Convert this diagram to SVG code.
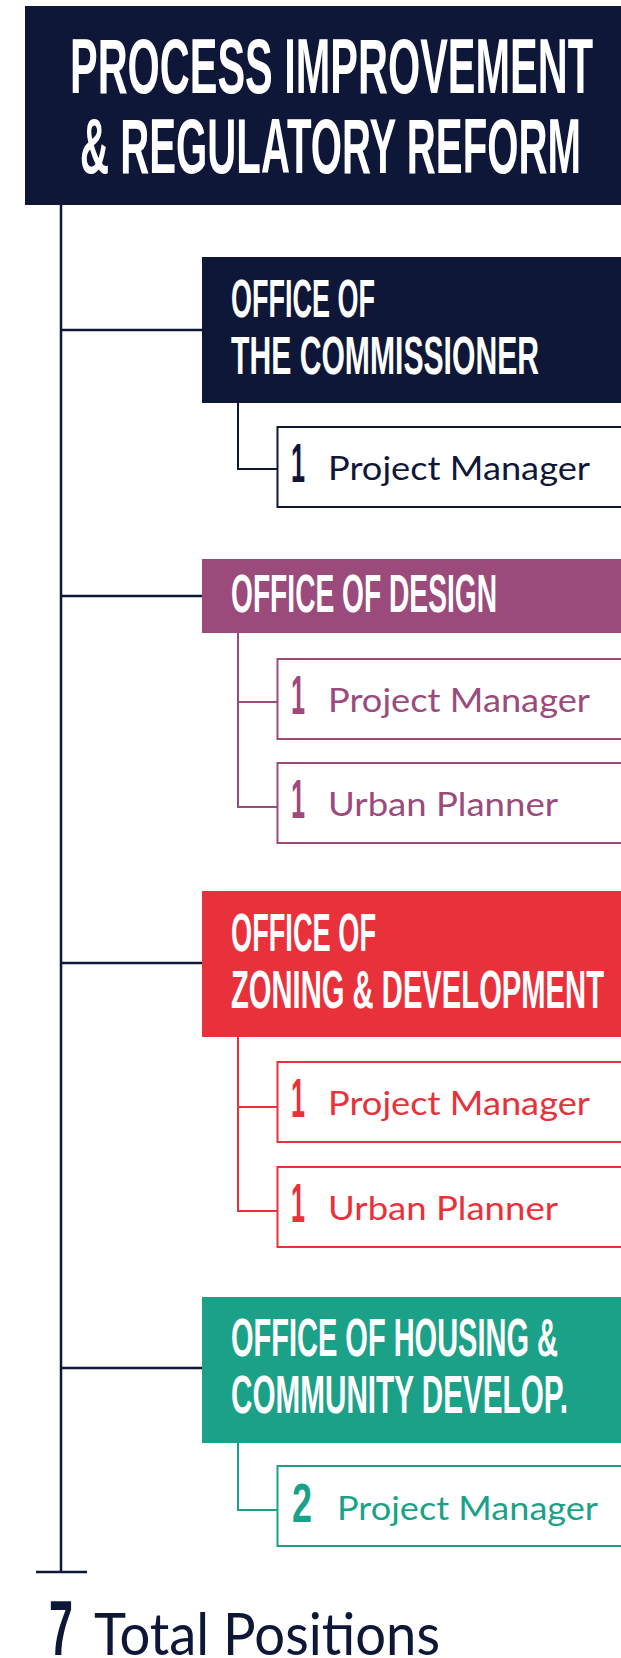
<svg xmlns="http://www.w3.org/2000/svg" width="621" height="1658" viewBox="0 0 621 1658">
<style>
.hd{font-family:"Liberation Sans Narrow","Liberation Sans",Arial,sans-serif;font-weight:bold;fill:#fff}
.t{font-size:40px}
.o{font-size:26px}
.dg{font-family:"Liberation Sans Narrow","Liberation Sans",Arial,sans-serif;font-weight:bold;font-size:56px}
.lb{font-family:Lato,"Noto Sans",sans-serif;font-size:33px}
.big7{font-size:78px}
.bigT{font-size:58px}
.navy{fill:#0f1739}.purple{fill:#9b4a7c}.red{fill:#e8313b}.teal{fill:#1ca189}
.sb{fill:#fff;stroke-width:2}
.trunk{stroke:#0f1739;stroke-width:2.5;fill:none}
.c{fill:none;stroke-width:2}
</style>
<g id="connectors">
<path class="trunk" d="M61 205V1572M36 1572H87M61 330H202M61 596H202M61 963H202M61 1368H202"/>
<path class="c" stroke="#0f1739" d="M238 403V469H277"/>
<path class="c" stroke="#9b4a7c" d="M238 633V807H277M238 702H277"/>
<path class="c" stroke="#e8313b" d="M238 1037V1211H277M238 1107H277"/>
<path class="c" stroke="#1ca189" d="M238 1443V1510H277"/>
</g>
<g id="title">
<rect x="25" y="6" width="596" height="199" class="navy"/>
<text class="hd t" transform="translate(70 93) scale(1 1.955)" textLength="523" lengthAdjust="spacingAndGlyphs">PROCESS IMPROVEMENT</text>
<text class="hd t" transform="translate(80 173) scale(1 1.955)" textLength="501" lengthAdjust="spacingAndGlyphs">&amp; REGULATORY REFORM</text>
</g>
<g id="office-commissioner">
<rect x="202" y="257" width="419" height="146" class="navy"/>
<text class="hd o" transform="translate(231 317) scale(1 2.07)" textLength="144" lengthAdjust="spacingAndGlyphs">OFFICE OF</text>
<text class="hd o" transform="translate(231 374) scale(1 2.07)" textLength="308" lengthAdjust="spacingAndGlyphs">THE COMMISSIONER</text>
</g>
<g id="commissioner-pm">
<rect x="277.5" y="427" width="360" height="80" class="sb" stroke="#0f1739"/>
<text class="dg navy" x="291" y="482" textLength="14" lengthAdjust="spacingAndGlyphs">1</text>
<text class="lb navy" x="328" y="480" textLength="262" lengthAdjust="spacingAndGlyphs">Project Manager</text>
</g>
<g id="office-design">
<rect x="202" y="559" width="419" height="74" class="purple"/>
<text class="hd o" transform="translate(231 612) scale(1 2.07)" textLength="266" lengthAdjust="spacingAndGlyphs">OFFICE OF DESIGN</text>
</g>
<g id="design-pm">
<rect x="277.5" y="659" width="360" height="80" class="sb" stroke="#9b4a7c"/>
<text class="dg purple" x="291" y="714" textLength="14" lengthAdjust="spacingAndGlyphs">1</text>
<text class="lb purple" x="328" y="712" textLength="262" lengthAdjust="spacingAndGlyphs">Project Manager</text>
</g>
<g id="design-up">
<rect x="277.5" y="763" width="360" height="80" class="sb" stroke="#9b4a7c"/>
<text class="dg purple" x="291" y="818" textLength="14" lengthAdjust="spacingAndGlyphs">1</text>
<text class="lb purple" x="328" y="816" textLength="230" lengthAdjust="spacingAndGlyphs">Urban Planner</text>
</g>
<g id="office-zoning">
<rect x="202" y="891" width="419" height="146" class="red"/>
<text class="hd o" transform="translate(231 951) scale(1 2.07)" textLength="145" lengthAdjust="spacingAndGlyphs">OFFICE OF</text>
<text class="hd o" transform="translate(231 1008) scale(1 2.07)" textLength="373" lengthAdjust="spacingAndGlyphs">ZONING &amp; DEVELOPMENT</text>
</g>
<g id="zoning-pm">
<rect x="277.5" y="1062" width="360" height="80" class="sb" stroke="#e8313b"/>
<text class="dg red" x="291" y="1117" textLength="14" lengthAdjust="spacingAndGlyphs">1</text>
<text class="lb red" x="328" y="1115" textLength="262" lengthAdjust="spacingAndGlyphs">Project Manager</text>
</g>
<g id="zoning-up">
<rect x="277.5" y="1167" width="360" height="80" class="sb" stroke="#e8313b"/>
<text class="dg red" x="291" y="1222" textLength="14" lengthAdjust="spacingAndGlyphs">1</text>
<text class="lb red" x="328" y="1220" textLength="230" lengthAdjust="spacingAndGlyphs">Urban Planner</text>
</g>
<g id="office-housing">
<rect x="202" y="1297" width="419" height="146" class="teal"/>
<text class="hd o" transform="translate(231 1356) scale(1 2.07)" textLength="327" lengthAdjust="spacingAndGlyphs">OFFICE OF HOUSING &amp;</text>
<text class="hd o" transform="translate(231 1413) scale(1 2.07)" textLength="337" lengthAdjust="spacingAndGlyphs">COMMUNITY DEVELOP.</text>
</g>
<g id="housing-pm">
<rect x="277.5" y="1466" width="360" height="80" class="sb" stroke="#1ca189"/>
<text class="dg teal" x="292" y="1522" textLength="20" lengthAdjust="spacingAndGlyphs">2</text>
<text class="lb teal" x="337" y="1520" textLength="261" lengthAdjust="spacingAndGlyphs">Project Manager</text>
</g>
<g id="total">
<text class="dg navy big7" x="49" y="1655" textLength="24" lengthAdjust="spacingAndGlyphs">7</text>
<text class="lb navy bigT" x="94" y="1655" textLength="346" lengthAdjust="spacingAndGlyphs">Total Positions</text>
</g>
</svg>
